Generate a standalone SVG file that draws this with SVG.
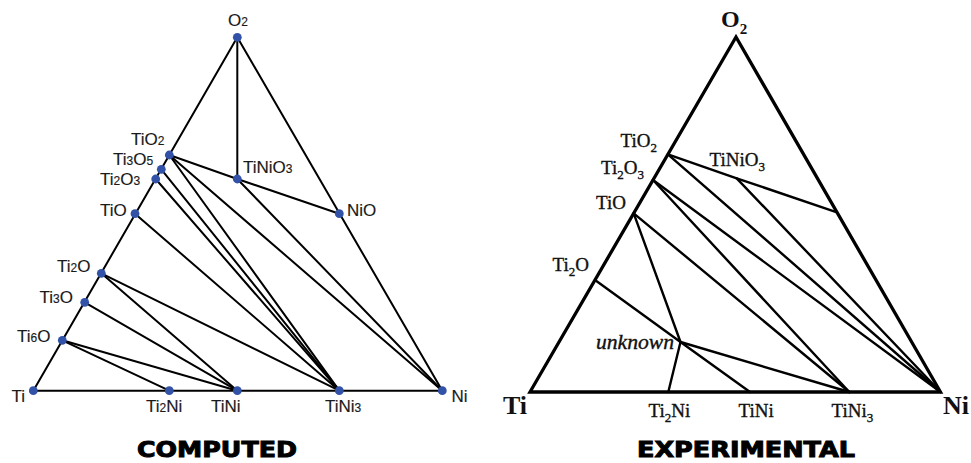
<svg xmlns="http://www.w3.org/2000/svg" width="971" height="463" viewBox="0 0 971 463">
<style>
.ln{stroke:#000;stroke-width:2;fill:none;stroke-linecap:round}
.rl{stroke:#000;stroke-width:2.4;fill:none;stroke-linecap:round}
.re{stroke:#000;stroke-width:3.3;fill:none;stroke-linejoin:miter}
.dot{fill:#3152a6}
.ls{font-family:"Liberation Sans",Arial,sans-serif;font-size:17px;fill:#1a1a1a;stroke:#1a1a1a;stroke-width:0.15}
.ls .s{font-size:12px}
.rs{font-family:"Liberation Serif","Times New Roman",serif;font-size:19px;fill:#111;stroke:#111;stroke-width:0.35}
.rs .s{font-size:13px}
.big{font-family:"Liberation Serif","Times New Roman",serif;font-size:26px;font-weight:bold;fill:#111}
.ttl{font-family:"DejaVu Sans","Liberation Sans",sans-serif;font-size:22px;font-weight:bold;fill:#000;stroke:#000;stroke-width:1}
</style>
<rect width="971" height="463" fill="#fff"/>

<!-- ========== COMPUTED ========== -->
<g id="computed-connectors">
<polygon class="ln" points="237.3,37.3 33.3,390.7 442.3,390.7"/>
<line class="ln" x1="237.3" y1="37.3" x2="237.3" y2="179"/>
<line class="ln" x1="169.3" y1="155" x2="237.3" y2="179"/>
<line class="ln" x1="237.3" y1="179" x2="339.3" y2="213.7"/>
<line class="ln" x1="237.3" y1="179" x2="442.3" y2="390.7"/>
<line class="ln" x1="169.3" y1="155" x2="442.3" y2="390.7"/>
<line class="ln" x1="169.3" y1="155" x2="339.3" y2="390.7"/>
<line class="ln" x1="161.3" y1="169.3" x2="339.3" y2="390.7"/>
<line class="ln" x1="155.7" y1="179" x2="339.3" y2="390.7"/>
<line class="ln" x1="135" y1="213.7" x2="339.3" y2="390.7"/>
<line class="ln" x1="101.3" y1="273.3" x2="339.3" y2="390.7"/>
<line class="ln" x1="101.3" y1="273.3" x2="237.3" y2="390.7"/>
<line class="ln" x1="84.7" y1="302.3" x2="237.3" y2="390.7"/>
<line class="ln" x1="62.3" y1="340.3" x2="237.3" y2="390.7"/>
<line class="ln" x1="62.3" y1="340.3" x2="169.3" y2="390.7"/>
</g>

<g id="c-O2"><circle class="dot" cx="237.3" cy="37.3" r="4.4"/><text class="ls" x="228" y="26">O<tspan class="s">2</tspan></text></g>
<g id="c-TiO2"><circle class="dot" cx="169.3" cy="155" r="4.4"/><text class="ls" x="131" y="145">TiO<tspan class="s">2</tspan></text></g>
<g id="c-Ti3O5"><circle class="dot" cx="161.3" cy="169.3" r="4.4"/><text class="ls" x="113" y="165">Ti<tspan class="s">3</tspan>O<tspan class="s">5</tspan></text></g>
<g id="c-Ti2O3"><circle class="dot" cx="155.7" cy="179" r="4.4"/><text class="ls" x="100" y="185">Ti<tspan class="s">2</tspan>O<tspan class="s">3</tspan></text></g>
<g id="c-TiO"><circle class="dot" cx="135" cy="213.7" r="4.4"/><text class="ls" x="100" y="216">TiO</text></g>
<g id="c-Ti2O"><circle class="dot" cx="101.3" cy="273.3" r="4.4"/><text class="ls" x="57" y="272">Ti<tspan class="s">2</tspan>O</text></g>
<g id="c-Ti3O"><circle class="dot" cx="84.7" cy="302.3" r="4.4"/><text class="ls" x="39.5" y="303">Ti<tspan class="s">3</tspan>O</text></g>
<g id="c-Ti6O"><circle class="dot" cx="62.3" cy="340.3" r="4.4"/><text class="ls" x="17" y="342">Ti<tspan class="s">6</tspan>O</text></g>
<g id="c-Ti"><circle class="dot" cx="33.3" cy="390.7" r="4.4"/><text class="ls" x="11.5" y="402">Ti</text></g>
<g id="c-Ti2Ni"><circle class="dot" cx="169.3" cy="390.7" r="4.4"/><text class="ls" x="146" y="411.7">Ti<tspan class="s">2</tspan>Ni</text></g>
<g id="c-TiNi"><circle class="dot" cx="237.3" cy="390.7" r="4.4"/><text class="ls" x="211" y="411.7">TiNi</text></g>
<g id="c-TiNi3"><circle class="dot" cx="339.3" cy="390.7" r="4.4"/><text class="ls" x="325" y="411.7">TiNi<tspan class="s">3</tspan></text></g>
<g id="c-Ni"><circle class="dot" cx="442.3" cy="390.7" r="4.4"/><text class="ls" x="451.5" y="402">Ni</text></g>
<g id="c-TiNiO3"><circle class="dot" cx="237.3" cy="179" r="4.4"/><text class="ls" x="243" y="173">TiNiO<tspan class="s">3</tspan></text></g>
<g id="c-NiO"><circle class="dot" cx="339.3" cy="213.7" r="4.4"/><text class="ls" x="347" y="216">NiO</text></g>
<text id="title-computed" class="ttl" x="137" y="456.5" textLength="160" lengthAdjust="spacingAndGlyphs">COMPUTED</text>

<!-- ========== EXPERIMENTAL ========== -->
<g id="experimental-connectors">
<polyline class="rl" points="667.9,154.3 736.7,178.3 837,212.3"/>
<line class="rl" x1="736.7" y1="178.3" x2="940.5" y2="392"/>
<line class="rl" x1="667.9" y1="154.3" x2="940.5" y2="392"/>
<line class="rl" x1="653" y1="180" x2="940.5" y2="392"/>
<line class="rl" x1="653" y1="180" x2="849.3" y2="392"/>
<line class="rl" x1="633.7" y1="213.3" x2="849.3" y2="392"/>
<line class="rl" x1="633.7" y1="213.3" x2="680.5" y2="342"/>
<line class="rl" x1="595" y1="280" x2="680.5" y2="342"/>
<line class="rl" x1="680.5" y1="342" x2="668.3" y2="392"/>
<line class="rl" x1="680.5" y1="342" x2="750" y2="392"/>
<line class="rl" x1="680.5" y1="342" x2="849.3" y2="392"/>
<polygon class="re" points="736,37 530,392 940.5,392"/>
</g>

<g id="e-O2"><text class="big" x="721" y="27" style="font-size:24px">O<tspan style="font-size:15px" dy="7">2</tspan></text></g>
<g id="e-TiO2"><text class="rs" x="620.5" y="147">TiO<tspan class="s" dy="5">2</tspan></text></g>
<g id="e-Ti2O3"><text class="rs" x="601" y="174">Ti<tspan class="s" dy="5">2</tspan><tspan dy="-5">O</tspan><tspan class="s" dy="5">3</tspan></text></g>
<g id="e-TiO"><text class="rs" x="596" y="209">TiO</text></g>
<g id="e-Ti2O"><text class="rs" x="552.5" y="270.5">Ti<tspan class="s" dy="5">2</tspan><tspan dy="-5">O</tspan></text></g>
<g id="e-TiNiO3"><text class="rs" x="709.5" y="166">TiNiO<tspan class="s" dy="5">3</tspan></text></g>
<g id="e-unknown"><text class="rs" x="596" y="348.5" style="font-style:italic;font-size:20px" textLength="78" lengthAdjust="spacingAndGlyphs">unknown</text></g>
<g id="e-Ti"><text class="big" x="503" y="414">Ti</text></g>
<g id="e-Ni"><text class="big" x="943" y="414">Ni</text></g>
<g id="e-Ti2Ni"><text class="rs" x="648.5" y="417">Ti<tspan class="s" dy="5">2</tspan><tspan dy="-5">Ni</tspan></text></g>
<g id="e-TiNi"><text class="rs" x="738.5" y="417">TiNi</text></g>
<g id="e-TiNi3"><text class="rs" x="831.5" y="417">TiNi<tspan class="s" dy="5">3</tspan></text></g>
<text id="title-experimental" class="ttl" x="637" y="456.5" textLength="218" lengthAdjust="spacingAndGlyphs">EXPERIMENTAL</text>
</svg>
